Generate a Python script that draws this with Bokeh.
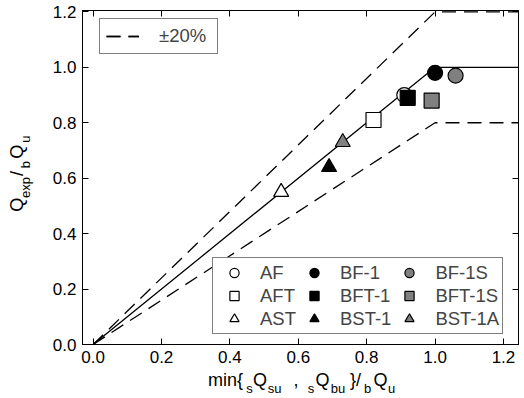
from bokeh.plotting import figure
from bokeh.models import (Legend, LegendItem, LinearAxis, FixedTicker,
                          PrintfTickFormatter, CustomJSTickFormatter)
from bokeh.embed import file_html
from bokeh.resources import INLINE

# ---------------- data ----------------
names = ["AF", "AFT", "AST", "BF-1", "BFT-1", "BST-1", "BF-1S", "BFT-1S", "BST-1A"]
x_vals = [0.91, 0.82, 0.55, 1.00, 0.92, 0.69, 1.06, 0.99, 0.73]
y_vals = [0.90, 0.81, 0.55, 0.98, 0.89, 0.64, 0.97, 0.88, 0.73]
markers = ["circle", "square", "triangle", "circle", "square", "triangle",
           "circle", "square", "triangle"]
fills = ["white", "white", "white", "black", "black", "black",
         "#808080", "#808080", "#808080"]

# design lines: 1:1 capped at 1.0, and +-20% bounds
line_x = [0.0, 1.0, 1.25]
line_y = [0.0, 1.0, 1.0]
upper_y = [0.0, 1.2, 1.2]
lower_y = [0.0, 0.8, 0.8]

ticks = [0.0, 0.2, 0.4, 0.6, 0.8, 1.0, 1.2]

# axis titles split into normal-size pieces and subscript pieces
x_title_main = ["min{", "Q", ",", "Q", "}/", "Q"]
x_title_sub = ["s", "su", "s", "bu", "b", "u"]
y_title_main = ["Q", "/", "Q"]
y_title_sub = ["exp", "b", "u"]

# ---------------- geometry (page pixels) ----------------
W, H = 524, 398
X0, X1 = -0.031, 1.244
Y0, Y1 = 0.0, 1.205
FL, FR, FT, FB = 82, 518, 10, 346

def px_x(px):
    return X0 + (px - FL) * (X1 - X0) / (FR - FL)

def px_y(py):
    return Y0 + (FB - py) * (Y1 - Y0) / (FB - FT)

# piece centres (px) for the composite titles
x_main_px = [225, 259.5, 295.5, 322, 355, 380]
x_sub_px = [249, 274, 310.5, 337.5, 367, 391]
y_main_px = [205.5, 174, 152]
y_sub_px = [188, 165, 139.5]

FONT = "Liberation Sans"

p = figure(width=W, height=H, x_range=(X0, X1), y_range=(Y0, Y1),
           output_backend="svg", toolbar_location=None,
           min_border_left=FL, min_border_right=W - FR,
           min_border_top=FT, min_border_bottom=H - FB)
p.grid.visible = False
p.outline_line_color = "black"
p.outline_line_width = 1
p.background_fill_color = "white"
p.border_fill_color = "white"

ticker = FixedTicker(ticks=ticks)
fmt = PrintfTickFormatter(format="%.1f")

for ax in (p.xaxis[0], p.yaxis[0]):
    ax.ticker = ticker
    ax.formatter = fmt
    ax.major_tick_in = 6
    ax.major_tick_out = 0
    ax.minor_tick_in = 0
    ax.minor_tick_out = 0
    ax.axis_line_color = "black"
    ax.major_tick_line_color = "black"
    ax.major_label_text_font = FONT
    ax.major_label_text_font_size = "17px"
    ax.major_label_text_color = "black"
p.xaxis[0].major_label_standoff = 6
p.yaxis[0].major_label_standoff = 6

blank = CustomJSTickFormatter(code="return ''")
for side in ("above", "right"):
    ax = LinearAxis(ticker=ticker, formatter=blank, major_tick_in=6,
                    major_tick_out=0, minor_tick_in=0, minor_tick_out=0,
                    major_label_text_font_size="0px", major_label_standoff=0,
                    axis_line_color="black")
    p.add_layout(ax, side)

def title_axis(side, positions, labels, size, standoff, vertical=False):
    ax = LinearAxis(ticker=FixedTicker(ticks=positions),
                    formatter=CustomJSTickFormatter(args=dict(labels=labels),
                                                    code="return labels[index];"),
                    major_tick_in=0, major_tick_out=0,
                    minor_tick_in=0, minor_tick_out=0,
                    axis_line_color=None, major_tick_line_color=None,
                    major_label_text_font=FONT, major_label_text_font_size=size,
                    major_label_text_color="black",
                    major_label_standoff=standoff)
    if vertical:
        ax.major_label_orientation = "vertical"
    p.add_layout(ax, side)
    return ax

title_axis("below", [px_x(v) for v in x_main_px], x_title_main, "18px", 4)
title_axis("below", [px_x(v) for v in x_sub_px], x_title_sub, "13px", -12)
title_axis("left", [px_y(v) for v in y_sub_px], y_title_sub, "13px", 16, vertical=True)
title_axis("left", [px_y(v) for v in y_main_px], y_title_main, "18px", -12,
           vertical=True)

# ---------------- lines ----------------
r_solid = p.line(line_x, line_y, line_color="black", line_width=1.3)
r_up = p.line(line_x, upper_y, line_color="black", line_width=1.3, line_dash="14 8")
r_lo = p.line(line_x, lower_y, line_color="black", line_width=1.3, line_dash="14 8")

# ---------------- points ----------------
renderers = []
for nm, xv, yv, mk, fc in zip(names, x_vals, y_vals, markers, fills):
    r = p.scatter([xv], [yv], marker=mk, size=15, fill_color=fc,
                  line_color="black", line_width=1.2)
    renderers.append((nm, r))

leg = Legend(items=[LegendItem(label=nm, renderers=[r]) for nm, r in renderers],
             orientation="vertical", nrows=3,
             location=(130, 10), padding=3, spacing=0, margin=0,
             glyph_width=36, glyph_height=23, label_height=23,
             label_standoff=8,
             label_text_font=FONT, label_text_font_size="18.5px",
             border_line_color="black", border_line_width=1,
             background_fill_alpha=1.0)
p.add_layout(leg, "center")

leg2 = Legend(items=[LegendItem(label="±20%", renderers=[r_up, r_lo])],
              location=(17, 290), padding=6, spacing=0, margin=0,
              glyph_width=33, glyph_height=18, label_height=18,
              label_standoff=20, label_width=52,
              label_text_font=FONT, label_text_font_size="18.5px",
              border_line_color="black", border_line_width=1)
p.add_layout(leg2, "center")

open("out.html", "w").write(file_html(p, INLINE))
